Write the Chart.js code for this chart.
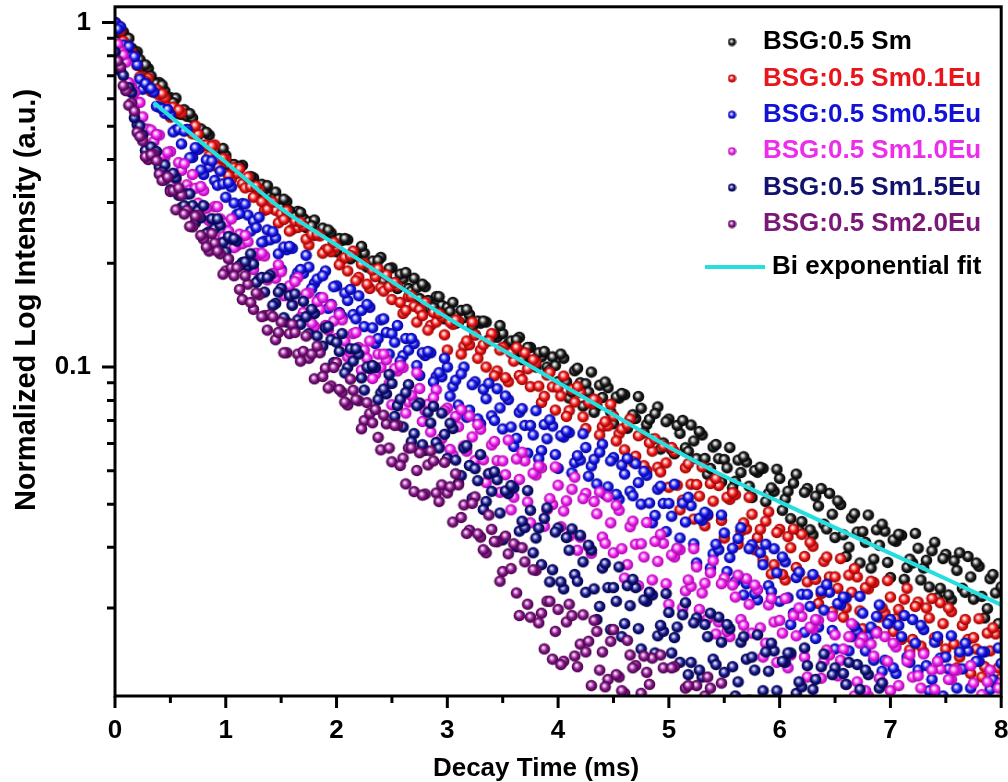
<!DOCTYPE html>
<html>
<head>
<meta charset="utf-8">
<script src="https://cdn.jsdelivr.net/npm/chart.js@4.4.0/dist/chart.umd.min.js"></script>
<style>
  body { margin: 0; background: #fff; }
  #wrap { width: 1008px; height: 782px; }
</style>
</head>
<body>
<div id="wrap"><canvas id="decayChart" width="1008" height="782"></canvas></div>
<script>
// decay time (ms): readings on the 0.05 ms grid ...
var times = [
  0, 0.05, 0.1, 0.15, 0.2, 0.25, 0.3, 0.35, 0.4, 0.45, 0.5, 0.55, 0.6, 0.65, 0.7, 0.75, 0.8, 0.85, 0.9, 0.95,
  1, 1.05, 1.1, 1.15, 1.2, 1.25, 1.3, 1.35, 1.4, 1.45, 1.5, 1.55, 1.6, 1.65, 1.7, 1.75, 1.8, 1.85, 1.9, 1.95,
  2, 2.05, 2.1, 2.15, 2.2, 2.25, 2.3, 2.35, 2.4, 2.45, 2.5, 2.55, 2.6, 2.65, 2.7, 2.75, 2.8, 2.85, 2.9, 2.95,
  3, 3.05, 3.1, 3.15, 3.2, 3.25, 3.3, 3.35, 3.4, 3.45, 3.5, 3.55, 3.6, 3.65, 3.7, 3.75, 3.8, 3.85, 3.9, 3.95,
  4, 4.05, 4.1, 4.15, 4.2, 4.25, 4.3, 4.35, 4.4, 4.45, 4.5, 4.55, 4.6, 4.65, 4.7, 4.75, 4.8, 4.85, 4.9, 4.95,
  5, 5.05, 5.1, 5.15, 5.2, 5.25, 5.3, 5.35, 5.4, 5.45, 5.5, 5.55, 5.6, 5.65, 5.7, 5.75, 5.8, 5.85, 5.9, 5.95,
  6, 6.05, 6.1, 6.15, 6.2, 6.25, 6.3, 6.35, 6.4, 6.45, 6.5, 6.55, 6.6, 6.65, 6.7, 6.75, 6.8, 6.85, 6.9, 6.95,
  7, 7.05, 7.1, 7.15, 7.2, 7.25, 7.3, 7.35, 7.4, 7.45, 7.5, 7.55, 7.6, 7.65, 7.7, 7.75, 7.8, 7.85, 7.9, 7.95,
  8
];
// ... and the readings in between
var midTimes = [
  0.025, 0.075, 0.125, 0.175, 0.225, 0.275, 0.325, 0.375, 0.425, 0.475, 0.525, 0.575, 0.625, 0.675, 0.725, 0.775, 0.825, 0.875, 0.925, 0.975,
  1.025, 1.075, 1.125, 1.175, 1.225, 1.275, 1.325, 1.375, 1.425, 1.475, 1.525, 1.575, 1.625, 1.675, 1.725, 1.775, 1.825, 1.875, 1.925, 1.975,
  2.025, 2.075, 2.125, 2.175, 2.225, 2.275, 2.325, 2.375, 2.425, 2.475, 2.525, 2.575, 2.625, 2.675, 2.725, 2.775, 2.825, 2.875, 2.925, 2.975,
  3.025, 3.075, 3.125, 3.175, 3.225, 3.275, 3.325, 3.375, 3.425, 3.475, 3.525, 3.575, 3.625, 3.675, 3.725, 3.775, 3.825, 3.875, 3.925, 3.975,
  4.025, 4.075, 4.125, 4.175, 4.225, 4.275, 4.325, 4.375, 4.425, 4.475, 4.525, 4.575, 4.625, 4.675, 4.725, 4.775, 4.825, 4.875, 4.925, 4.975,
  5.025, 5.075, 5.125, 5.175, 5.225, 5.275, 5.325, 5.375, 5.425, 5.475, 5.525, 5.575, 5.625, 5.675, 5.725, 5.775, 5.825, 5.875, 5.925, 5.975,
  6.025, 6.075, 6.125, 6.175, 6.225, 6.275, 6.325, 6.375, 6.425, 6.475, 6.525, 6.575, 6.625, 6.675, 6.725, 6.775, 6.825, 6.875, 6.925, 6.975,
  7.025, 7.075, 7.125, 7.175, 7.225, 7.275, 7.325, 7.375, 7.425, 7.475, 7.525, 7.575, 7.625, 7.675, 7.725, 7.775, 7.825, 7.875, 7.925, 7.975
];

// BSG:0.5 Sm
var sm05 = [
  1.0, .927, .905, .842, .822, .739, .735, .672, .669, .632, .605, .603, .541, .534, .528, .471, .482, .471, .430, .417,
  .411, .387, .366, .385, .345, .354, .322, .329, .312, .322, .292, .302, .272, .283, .270, .264, .267, .243, .244, .245,
  .216, .233, .234, .210, .209, .214, .200, .187, .208, .180, .194, .169, .180, .169, .181, .158, .171, .147, .160, .151,
  .149, .154, .135, .139, .142, .124, .134, .135, .122, .122, .125, .117, .109, .122, .106, .114, .100, .107, .100, .107,
  .0907, .106, .0813, .0975, .090, .0894, .0967, .0769, .0816, .0871, .0685, .0812, .0831, .0701, .0709, .0759, .0681, .0617, .0766, .0602,
  .0706, .0560, .0642, .0583, .0679, .0542, .0635, .0488, .0586, .0542, .0539, .0584, .0466, .0494, .0530, .0418, .0495, .0508, .0430, .0436,
  .0475, .0414, .0363, .0489, .0356, .0444, .0326, .0395, .0350, .0430, .0320, .0399, .0282, .0365, .0332, .0333, .0372, .0277, .0304, .0334,
  .0245, .0312, .0325, .0262, .0270, .0298, .0261, .0230, .0310, .0228, .0286, .0211, .0257, .0228, .0282, .0212, .0264, .0187, .0243, .0221,
  .0230
];
var sm05Mid = [
  .955, .939, .899, .815, .780, .753, .699, .664, .658, .600, .585, .543, .558, .544, .491, .491, .480, .430, .428, .431,
  .385, .387, .382, .346, .357, .328, .339, .336, .307, .307, .307, .284, .273, .281, .254, .257, .243, .253, .250, .230,
  .236, .236, .206, .212, .224, .195, .203, .204, .178, .193, .173, .186, .188, .166, .170, .174, .156, .149, .160, .138,
  .145, .134, .146, .147, .131, .136, .136, .120, .124, .132, .114, .119, .120, .105, .114, .102, .110, .111, .098, .101,
  .109, .0907, .0846, .0992, .0770, .0846, .0739, .0886, .0905, .0741, .0819, .0838, .0664, .0727, .0821, .0645, .0705, .0733, .0578, .0694,
  .0575, .0677, .0700, .0569, .0610, .0650, .0543, .0508, .0596, .0464, .0510, .0446, .0537, .0549, .0451, .0501, .0512, .0407, .0446, .0505,
  .0384, .0436, .0460, .0336, .0433, .0337, .0422, .0444, .0339, .0374, .0409, .0326, .0300, .0375, .0270, .0310, .0261, .0337, .0350, .0271,
  .0315, .0327, .0242, .0277, .0329, .0241, .0275, .0293, .0214, .0278, .0218, .0274, .0289, .0222, .0246, .0270, .0216, .0199, .0250, .0180
];

// BSG:0.5 Sm0.1Eu
var eu01 = [
  .98, .949, .834, .821, .750, .696, .689, .628, .615, .604, .531, .557, .547, .489, .475, .474, .440, .410, .441, .383,
  .401, .351, .365, .340, .356, .311, .328, .285, .302, .285, .278, .284, .251, .254, .257, .226, .241, .240, .219, .216,
  .223, .205, .190, .217, .182, .200, .169, .183, .170, .185, .157, .172, .143, .160, .150, .147, .154, .132, .135, .140,
  .112, .133, .136, .115, .116, .124, .112, .100, .125, .0974, .114, .0906, .104, .0945, .110, .0877, .103, .0789, .0948, .0876,
  .0871, .0941, .0747, .0791, .0843, .0663, .0783, .0797, .0671, .0675, .0720, .0640, .0575, .0707, .0551, .0639, .0501, .0570, .0512, .0590,
  .0448, .0568, .0385, .0510, .0457, .0456, .0513, .0371, .0408, .0453, .0319, .0413, .0426, .0334, .0339, .0374, .0320, .0276, .0380, .0267,
  .0338, .0241, .0299, .0262, .0327, .0238, .0302, .0206, .0273, .0246, .0246, .0278, .0200, .0222, .0246, .0174, .0227, .0237, .0188, .0193,
  .0215, .0186, .0162, .0228, .0162, .0208, .0149, .0187, .0164, .0207, .0152, .0195, .0134, .0178, .0162, .0164, .0186, .0135, .0150, .0168,
  .0125
];
var eu01Mid = [
  .981, .883, .816, .798, .695, .675, .631, .640, .621, .567, .568, .557, .485, .489, .501, .434, .441, .438, .381, .403,
  .360, .379, .376, .331, .334, .335, .302, .287, .301, .262, .268, .248, .265, .263, .235, .243, .243, .214, .220, .230,
  .198, .208, .211, .178, .199, .174, .191, .193, .166, .171, .176, .154, .146, .161, .135, .141, .128, .144, .143, .124,
  .135, .137, .109, .119, .135, .106, .116, .119, .0943, .112, .0931, .110, .114, .0920, .0988, .105, .0880, .0822, .0965, .0750,
  .0824, .0719, .0861, .0877, .0717, .0791, .0807, .0635, .0694, .0780, .0610, .0661, .0680, .0531, .0632, .0517, .0603, .0619, .0496, .0527,
  .0584, .0454, .0411, .0524, .0362, .0422, .0346, .0459, .0475, .0359, .0419, .0432, .0306, .0353, .0419, .0295, .0338, .0357, .0251, .0331,
  .0250, .0322, .0339, .0253, .0282, .0310, .0242, .0220, .0281, .0195, .0228, .0188, .0249, .0260, .0196, .0229, .0239, .0171, .0200, .0240,
  .0171, .0198, .0212, .0151, .0202, .0155, .0200, .0213, .0160, .0180, .0200, .0157, .0144, .0185, .0129, .0152, .0126, .0169, .0175, .0134
];

// BSG:0.5 Sm0.5Eu
var eu05 = [
  1.0, .971, .842, .798, .754, .640, .650, .628, .568, .545, .539, .488, .444, .489, .406, .428, .362, .381, .348, .370,
  .311, .333, .277, .298, .276, .265, .272, .232, .234, .237, .192, .219, .221, .188, .187, .195, .175, .159, .190, .152,
  .172, .140, .156, .142, .161, .131, .149, .117, .137, .126, .125, .132, .108, .112, .117, .0945, .108, .110, .0938, .0937,
  .100, .0879, .0776, .100, .0750, .0906, .0685, .0809, .0722, .0865, .0661, .0804, .0588, .0739, .0677, .0677, .0747, .0572, .0619, .0674,
  .0508, .0626, .0645, .0528, .0537, .0584, .0516, .0458, .0597, .0449, .0546, .0413, .0489, .0436, .0524, .0400, .0485, .0353, .0442, .0402,
  .0402, .0457, .0319, .0355, .0396, .0270, .0359, .0374, .0287, .0295, .0330, .0280, .0239, .0342, .0235, .0305, .0211, .0267, .0232, .0297,
  .0209, .0272, .0179, .0245, .0219, .0219, .0250, .0176, .0197, .0222, .0152, .0204, .0214, .0165, .0171, .0193, .0165, .0141, .0204, .0141,
  .0185, .0129, .0165, .0144, .0185, .0132, .0173, .0115, .0159, .0143, .0144, .0166, .0117, .0133, .0150, .0104, .0140, .0149, .0116, .0121,
  .0138
];
var eu05Mid = [
  .957, .860, .852, .796, .685, .665, .644, .571, .562, .559, .481, .490, .484, .405, .433, .373, .399, .396, .337, .340,
  .343, .299, .279, .297, .248, .254, .230, .250, .247, .213, .223, .224, .181, .192, .211, .169, .180, .184, .148, .171,
  .144, .164, .168, .138, .146, .152, .130, .121, .138, .109, .118, .104, .121, .121, .101, .110, .111, .0905, .0963, .106,
  .0823, .0916, .0955, .0715, .0889, .0707, .0862, .0897, .0700, .0761, .0824, .0670, .0621, .0757, .0562, .0635, .0542, .0681, .0703, .0557,
  .0632, .0652, .0493, .0553, .0640, .0482, .0540, .0566, .0427, .0534, .0427, .0520, .0543, .0423, .0462, .0498, .0403, .0371, .0451, .0333,
  .0369, .0296, .0403, .0419, .0307, .0364, .0379, .0261, .0306, .0372, .0255, .0298, .0318, .0218, .0297, .0220, .0289, .0306, .0223, .0253,
  .0281, .0214, .0193, .0254, .0170, .0202, .0163, .0224, .0234, .0172, .0206, .0215, .0150, .0177, .0216, .0150, .0176, .0189, .0131, .0180,
  .0134, .0178, .0190, .0139, .0158, .0178, .0136, .0124, .0165, .0111, .0133, .0108, .0149, .0158, .0117, .0140, .0149, .0104, .0124, .0153
];

// BSG:0.5 Sm1.0Eu
var eu10 = [
  .839, .829, .767, .651, .586, .532, .490, .451, .471, .407, .422, .351, .372, .338, .362, .299, .325, .266, .292, .269,
  .261, .269, .225, .228, .231, .192, .211, .210, .184, .181, .189, .168, .152, .182, .144, .164, .131, .147, .132, .151,
  .121, .137, .107, .125, .114, .112, .119, .0953, .0996, .105, .0777, .0974, .0997, .0791, .0798, .0866, .0746, .0648, .0859, .0620,
  .0760, .0556, .0671, .0590, .0721, .0535, .0660, .0462, .0594, .0535, .0534, .0614, .0419, .0472, .0534, .0353, .0486, .0510, .0386, .0399,
  .0454, .0382, .0323, .0479, .0321, .0430, .0288, .0375, .0321, .0420, .0289, .0384, .0244, .0344, .0306, .0307, .0354, .0241, .0273, .0308,
  .0205, .0281, .0295, .0224, .0231, .0263, .0221, .0186, .0274, .0182, .0244, .0165, .0215, .0185, .0243, .0169, .0226, .0144, .0204, .0182,
  .0184, .0213, .0146, .0166, .0189, .0126, .0174, .0184, .0140, .0146, .0167, .0141, .0120, .0180, .0122, .0164, .0111, .0145, .0125, .0165,
  .0115, .0154, .0099, .0140, .0126, .0127, .0147, .0102, .0116, .0133, .0089, .0124, .0132, .0100, .0105, .0121, .0103, .0088, .0132, .0089,
  .0121
];
var eu10Mid = [
  .865, .805, .669, .626, .586, .490, .487, .473, .411, .420, .363, .392, .389, .326, .330, .334, .289, .269, .292, .239,
  .248, .222, .243, .241, .204, .214, .214, .179, .187, .198, .161, .172, .177, .139, .163, .134, .155, .159, .128, .136,
  .142, .119, .110, .126, .0979, .106, .0926, .109, .109, .0896, .0989, .101, .0735, .0828, .0963, .0695, .0780, .0815, .0587, .0747,
  .0577, .0719, .0752, .0570, .0627, .0681, .0538, .0490, .0608, .0433, .0487, .0385, .0541, .0566, .0406, .0492, .0516, .0345, .0415, .0513,
  .0344, .0409, .0442, .0294, .0415, .0301, .0407, .0434, .0308, .0353, .0397, .0297, .0267, .0357, .0232, .0281, .0222, .0312, .0327, .0235,
  .0285, .0298, .0200, .0241, .0297, .0198, .0236, .0253, .0168, .0235, .0171, .0233, .0249, .0178, .0205, .0233, .0175, .0158, .0213, .0139,
  .0169, .0134, .0190, .0200, .0144, .0176, .0185, .0125, .0151, .0189, .0127, .0152, .0165, .0111, .0158, .0115, .0157, .0169, .0121, .0140,
  .0158, .0119, .0108, .0146, .0096, .0117, .0093, .0132, .0140, .0102, .0124, .0132, .0089, .0108, .0136, .0093, .0112, .0122, .0082, .0117
];

// BSG:0.5 Sm1.5Eu (readings up to 7 ms)
var eu15 = [
  .821, .724, .635, .626, .505, .471, .412, .416, .381, .386, .327, .354, .290, .318, .294, .284, .294, .247, .252, .258,
  .216, .235, .232, .201, .196, .199, .180, .165, .185, .153, .169, .135, .151, .137, .155, .125, .143, .111, .130, .120,
  .118, .125, .0998, .104, .109, .0857, .0990, .0997, .0840, .0836, .0896, .0772, .0670, .0889, .0641, .0786, .0573, .0688, .0604, .0735,
  .0543, .0663, .0460, .0582, .0518, .0507, .0557, .0407, .0436, .0471, .0315, .0429, .0446, .0334, .0342, .0384, .0319, .0267, .0390, .0258,
  .0341, .0227, .0294, .0250, .0325, .0222, .0294, .0185, .0261, .0229, .0229, .0263, .0180, .0203, .0229, .0152, .0209, .0218, .0166, .0171,
  .0194, .0164, .0139, .0207, .0139, .0187, .0126, .0165, .0142, .0188, .0130, .0174, .0111, .0159, .0142, .0144, .0167, .0115, .0131, .0150,
  .0100, .0139, .0148, .0113, .0118, .0136, .0116, .0098, .0147, .0099, .0134, .0091, .0120, .0103, .0137, .0096, .0128, .0082, .0117, .0105,
  .0107
];
var eu15Mid = [
  .739, .702, .647, .529, .501, .425, .435, .422, .368, .359, .365, .315, .294, .318, .262, .271, .244, .269, .269, .230,
  .239, .236, .197, .202, .213, .176, .182, .182, .151, .165, .139, .161, .163, .133, .140, .147, .123, .115, .131, .103,
  .111, .0961, .113, .113, .0930, .100, .101, .0804, .0863, .0951, .0719, .0807, .0843, .0607, .0772, .0595, .0739, .0769, .0582, .0638,
  .0687, .0537, .0484, .0591, .0416, .0468, .0386, .0490, .0497, .0377, .0437, .0453, .0301, .0357, .0438, .0289, .0341, .0364, .0238, .0332,
  .0238, .0320, .0339, .0239, .0272, .0304, .0227, .0202, .0269, .0173, .0209, .0165, .0232, .0242, .0174, .0211, .0222, .0148, .0178, .0220,
  .0148, .0176, .0191, .0128, .0181, .0132, .0179, .0193, .0137, .0159, .0179, .0135, .0122, .0165, .0108, .0132, .0105, .0149, .0158, .0115,
  .0140, .0148, .0101, .0122, .0153, .0103, .0124, .0135, .0090, .0128, .0094, .0129, .0139, .0099, .0116, .0132, .0100, .0089, .0121, .0080
];

// BSG:0.5 Sm2.0Eu (readings up to 5.5 ms)
var eu20 = [
  .748, .743, .634, .584, .480, .453, .400, .415, .363, .349, .323, .286, .315, .285, .255, .276, .235, .217, .229, .213,
  .190, .194, .194, .157, .174, .147, .162, .141, .142, .120, .135, .110, .133, .109, .111, .106, .0924, .110, .0992, .0881,
  .103, .0845, .0776, .0856, .0798, .0699, .0733, .0753, .0575, .0684, .0531, .0679, .0544, .0582, .0435, .0564, .0428, .0571, .0431, .0455,
  .0431, .0355, .0455, .0398, .0336, .0420, .0321, .0289, .0338, .0311, .0255, .0287, .0307, .0190, .0272, .0188, .0257, .0193, .0209, .0142,
  .0198, .0140, .0205, .0145, .0157, .0149, .0119, .0171, .0149, .0124, .0173, .0126, .0113, .0146, .0136, .0113, .0130, .0143, .0091, .0134,
  .0096, .0135, .0104, .0117, .0082, .0119, .0085, .0126, .0091, .0099, .0088
];
var eu20Mid = [
  .773, .655, .575, .553, .467, .408, .413, .397, .348, .356, .325, .331, .278, .256, .274, .241, .223, .244, .217, .186,
  .206, .184, .168, .184, .154, .164, .140, .128, .140, .126, .110, .125, .126, .104, .123, .109, .115, .0939, .0869, .0997,
  .0861, .0791, .0922, .0804, .0662, .0788, .0689, .0625, .0725, .0582, .0677, .0518, .0458, .0583, .0501, .0425, .0520, .0534, .0407, .0529,
  .0449, .0490, .0366, .0329, .0402, .0328, .0295, .0372, .0312, .0239, .0323, .0260, .0221, .0299, .0205, .0258, .0181, .0152, .0209, .0171,
  .0137, .0182, .0190, .0135, .0191, .0160, .0184, .0132, .0118, .0160, .0128, .0115, .0161, .0134, .0098, .0145, .0120, .0104, .0146, .0103,
  .0134, .0097, .0083, .0119, .0100, .0082, .0111, .0117, .0084, .0121
];

// Bi exponential fit of the undoped sample
var fitTimes = [0.35, 0.5, 0.75, 1, 1.5, 2, 2.5, 3, 3.5, 4, 4.5, 5, 5.5, 6, 6.5, 7, 7.5, 8];
var fitValues = [0.585, 0.533, 0.457, 0.393, 0.288, 0.226, 0.177, 0.139, 0.112, 0.0902, 0.0727, 0.0586, 0.0482, 0.0406, 0.0342, 0.0288, 0.0243, 0.0204];

var seriesNames = ["BSG:0.5 Sm", "BSG:0.5 Sm0.1Eu", "BSG:0.5 Sm0.5Eu", "BSG:0.5 Sm1.0Eu", "BSG:0.5 Sm1.5Eu", "BSG:0.5 Sm2.0Eu"];
var fitName = "Bi exponential fit";
var yTickValues = [0.1, 1];

// ball colours: highlight, body, rim, legend text
var palette = [
  { hi: "#b8b8b8", body: "#222222", rim: "#000000", text: "#000000" },
  { hi: "#ffb0b0", body: "#f01a1a", rim: "#8c0000", text: "#e8161c" },
  { hi: "#b0b0ff", body: "#1c1cf0", rim: "#00008a", text: "#1212d6" },
  { hi: "#ffb8ff", body: "#f028f0", rim: "#a000a0", text: "#ec2eec" },
  { hi: "#9a9ad8", body: "#17178a", rim: "#00003c", text: "#11116e" },
  { hi: "#d99ad8", body: "#86168a", rim: "#3e003e", text: "#7a1878" }
];
var fitColor = "#26dede";
var fontFamily = "'Liberation Sans', Arial, sans-serif";

function makeBall(c, r) {
  var cv = document.createElement("canvas");
  var s = Math.ceil(r * 2 + 1);
  cv.width = s; cv.height = s;
  var g = cv.getContext("2d");
  var cx = s / 2, cy = s / 2;
  var grad = g.createRadialGradient(cx - r * 0.2, cy - r * 0.25, r * 0.05, cx, cy, r);
  grad.addColorStop(0, "#ffffff");
  grad.addColorStop(0.22, c.hi);
  grad.addColorStop(0.55, c.body);
  grad.addColorStop(1, c.rim);
  g.fillStyle = grad;
  g.beginPath();
  g.arc(cx, cy, r, 0, Math.PI * 2);
  g.fill();
  return cv;
}

function toPoints(xs, ys) {
  return ys.map(function (v, k) { return { x: xs[k], y: v }; });
}

var gridSeries = [sm05, eu01, eu05, eu10, eu15, eu20];
var midSeries = [sm05Mid, eu01Mid, eu05Mid, eu10Mid, eu15Mid, eu20Mid];
var datasets = [];
for (var i = 0; i < gridSeries.length; i++) {
  datasets.push({
    label: seriesNames[i],
    data: toPoints(times, gridSeries[i]).concat(toPoints(midTimes, midSeries[i])),
    pointStyle: makeBall(palette[i], 5.8),
    legendBall: makeBall(palette[i], 4),
    legendText: palette[i].text,
    pointRadius: 5.8,
    showLine: false,
    order: gridSeries.length - i
  });
}
datasets.push({
  label: fitName,
  type: "line",
  data: toPoints(fitTimes, fitValues),
  borderColor: fitColor,
  borderWidth: 4,
  pointRadius: 0,
  fill: false,
  cubicInterpolationMode: "monotone",
  order: 0
});

// frame, outside tick marks and axis titles
var frameTicks = {
  id: "frameTicks",
  afterDraw: function (chart) {
    var ctx = chart.ctx, a = chart.chartArea;
    var xs = chart.scales.x, ys = chart.scales.y;
    ctx.save();
    ctx.strokeStyle = "#000";
    ctx.lineWidth = 3;
    ctx.strokeRect(a.left, a.top, a.right - a.left, a.bottom - a.top);
    ctx.beginPath();
    for (var k = 0; k <= 16; k++) {
      var px = xs.getPixelForValue(k / 2);
      var len = k % 2 ? 7 : 12;
      ctx.moveTo(px, a.bottom);
      ctx.lineTo(px, a.bottom + len);
    }
    var decades = [0.01, 0.1, 1];
    for (var d = 0; d < decades.length; d++) {
      for (var m = 1; m <= 9; m++) {
        var v = decades[d] * m;
        if (v < ys.min || v > ys.max) continue;
        var py = ys.getPixelForValue(v);
        var l = m === 1 ? 13 : 8;
        ctx.moveTo(a.left, py);
        ctx.lineTo(a.left - l, py);
      }
    }
    ctx.stroke();

    ctx.fillStyle = "#000";
    ctx.font = "bold 26px " + fontFamily;
    ctx.textAlign = "center";
    ctx.textBaseline = "alphabetic";
    ctx.fillText("Decay Time (ms)", 536, 776);
    ctx.translate(27, 300);
    ctx.rotate(-Math.PI / 2);
    ctx.font = "bold 29px " + fontFamily;
    ctx.textBaseline = "middle";
    ctx.fillText("Normalized Log Intensity (a.u.)", 0, 0);
    ctx.restore();
  }
};

// legend drawn inside the plot, top right
var insideLegend = {
  id: "insideLegend",
  afterDraw: function (chart) {
    var ctx = chart.ctx;
    var sets = chart.data.datasets;
    ctx.save();
    ctx.font = "bold 26px " + fontFamily;
    ctx.textBaseline = "middle";
    ctx.textAlign = "left";
    for (var i = 0; i < sets.length - 1; i++) {
      var yy = 42 + i * 36.4;
      var b = sets[i].legendBall;
      ctx.drawImage(b, 732 - b.width / 2, yy - b.height / 2);
      ctx.fillStyle = sets[i].legendText;
      ctx.fillText(sets[i].label, 763, yy);
    }
    var fy = 267;
    ctx.strokeStyle = fitColor;
    ctx.lineWidth = 4;
    ctx.beginPath();
    ctx.moveTo(705, fy);
    ctx.lineTo(765, fy);
    ctx.stroke();
    ctx.fillStyle = "#000";
    ctx.fillText(sets[sets.length - 1].label, 772, fy);
    ctx.restore();
  }
};

var tickFont = { family: fontFamily, size: 26, weight: "bold" };

new Chart(document.getElementById("decayChart"), {
  type: "scatter",
  data: { datasets: datasets },
  options: {
    responsive: false,
    animation: false,
    layout: { padding: { top: 6, right: 6, left: 0, bottom: 0 } },
    plugins: { legend: { display: false }, tooltip: { enabled: false } },
    scales: {
      x: {
        type: "linear",
        min: 0,
        max: 8,
        grid: { display: false, drawTicks: false },
        border: { display: false },
        ticks: { stepSize: 1, color: "#000", font: tickFont, padding: 19, maxRotation: 0 },
        afterFit: function (s) { s.height = 86; s.paddingLeft = 0; s.paddingRight = 0; }
      },
      y: {
        type: "logarithmic",
        min: 0.0111,
        max: 1.11,
        grid: { display: false, drawTicks: false },
        border: { display: false },
        afterBuildTicks: function (s) { s.ticks = yTickValues.map(function (v) { return { value: v }; }); },
        ticks: { color: "#000", font: tickFont, padding: 24, callback: function (v) { return String(v); } },
        afterFit: function (s) { s.width = 115; s.paddingTop = 0; s.paddingBottom = 0; }
      }
    }
  },
  plugins: [frameTicks, insideLegend]
});
</script>
</body>
</html>
